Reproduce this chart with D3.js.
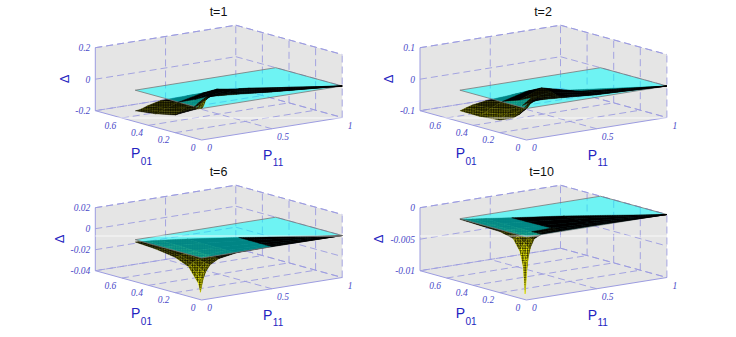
<!DOCTYPE html>
<html>
<head>
<meta charset="utf-8">
<script src="https://cdn.jsdelivr.net/npm/d3@7"></script>
<style>
  html, body { margin: 0; padding: 0; background: #fff; }
  svg { display: block; }
</style>
</head>
<body>
<div id="svgContainer"></div>
<script>
const titles = ['t=1', 't=2', 't=6', 't=10'];
const p11Ticks = [0, 0.5, 1];
const p01Ticks = [0, 0.2, 0.4, 0.6];
const deltaDomains = [[-0.2, 0.2], [-0.1, 0.1], [-0.04, 0.02], [-0.01, 0]];
const deltaTicks = [[-0.2, 0, 0.2], [-0.1, 0, 0.1], [-0.04, -0.02, 0, 0.02], [-0.01, -0.005, 0]];
const deltaTickLabels = [['-0.2', '0', '0.2'], ['-0.1', '0', '0.1'], ['-0.04', '-0.02', '0', '0.02'], ['-0.01', '-0.005', '0']];

// surface samples: columns follow P11, rows run from the P01=0 edge to the diagonal edge
const p11Grid = [0, 0.012, 0.03, 0.06, 0.12, 0.25, 0.5, 1];
const edgeGrid = [0, 0.02, 0.05, 0.1, 0.2, 0.4, 0.7, 1];
const planeP11 = [0, 1, 1, 0];
const planeP01 = [0, 0, 0.5, 0.5];

const deltaT1 = [
  [0, 0.012, 0.05, 0.068, 0.064, 0.054, 0.034, 0],
  [-0.003, 0.006, 0.04, 0.064, 0.064, 0.056, 0.034, 0],
  [-0.008, 0, 0.028, 0.056, 0.062, 0.058, 0.034, 0],
  [-0.018, -0.012, 0.008, 0.04, 0.056, 0.06, 0.034, 0],
  [-0.04, -0.036, -0.024, 0, 0.038, 0.062, 0.032, 0],
  [-0.088, -0.082, -0.07, -0.046, 0, 0.052, 0.028, 0],
  [-0.115, -0.112, -0.1, -0.085, -0.05, 0, 0.016, 0],
  [-0.131, -0.128, -0.12, -0.1, -0.07, -0.042, -0.003, 0]
];
const deltaT2 = [
  [0, 0.004, 0.014, 0.02, 0.02, 0.016, 0.008, 0],
  [-0.005, -0.001, 0.01, 0.018, 0.02, 0.017, 0.008, 0],
  [-0.012, -0.007, 0.003, 0.015, 0.02, 0.018, 0.008, 0],
  [-0.024, -0.018, -0.006, 0.008, 0.02, 0.02, 0.008, 0],
  [-0.042, -0.036, -0.024, -0.006, 0.016, 0.026, 0.008, 0],
  [-0.06, -0.056, -0.046, -0.03, -0.002, 0.03, 0.006, 0],
  [-0.066, -0.062, -0.054, -0.042, -0.022, 0.006, -0.002, 0],
  [-0.065, -0.062, -0.056, -0.048, -0.036, -0.018, -0.007, 0]
];
const deltaT6 = [
  [-0.027, -0.0195, -0.0135, -0.0078, -0.0032, -0.0003, 0.0002, 0],
  [-0.033, -0.0225, -0.015, -0.008, -0.0033, -0.0004, 0.0002, 0],
  [-0.025, -0.02, -0.014, -0.0078, -0.0033, -0.0005, 0.0002, 0],
  [-0.0205, -0.017, -0.0122, -0.0072, -0.0032, -0.0006, 0.0001, 0],
  [-0.0115, -0.0105, -0.0085, -0.0058, -0.0028, -0.0006, 0.0001, 0],
  [-0.0062, -0.0058, -0.0052, -0.004, -0.002, -0.0005, 0.0001, 0],
  [-0.0034, -0.0032, -0.0029, -0.0024, -0.0014, -0.0004, 0.0001, 0],
  [-0.0022, -0.0021, -0.0019, -0.0016, -0.001, -0.0003, 0.0001, 0]
];
const deltaT10 = [
  [-0.0062, -0.0034, -0.0017, -0.0003, 0.0001, 0.0001, 0.0001, 0],
  [-0.0091, -0.0048, -0.0021, -0.0006, 0.00005, 0.0001, 0.0001, 0],
  [-0.0048, -0.0036, -0.0019, -0.0007, -0.00005, 0.0001, 0.0001, 0],
  [-0.0025, -0.0021, -0.0014, -0.0006, -0.00005, 0.0001, 0.0001, 0],
  [-0.0008, -0.0008, -0.0006, -0.0004, -0.0001, 0.0001, 0.0001, 0],
  [-0.0003, -0.0003, -0.0003, -0.0002, -0.0001, 0.00005, 0.0001, 0],
  [-0.0002, -0.0002, -0.0002, -0.00015, -0.0001, 0.00002, 0.0001, 0],
  [-0.0001, -0.0001, -0.0001, -0.0001, -0.00005, -0.00002, 0.0001, 0]
];
const surfaces = [deltaT1, deltaT2, deltaT6, deltaT10];

const w = 736, h = 337;
const originX = [201.7, 526.4, 201.7, 526.4];
const originY = [140, 140, 300, 300];
const titleX = [218.5, 543, 218.5, 541.7];
const titleY = [15.5, 15.5, 176, 176];
const deltaLabelX = [64.3, 388.5, 59.5, 378.5];
const whiteY = [118, 118, 236, 236];

const gridColor = '#9c9ce0';
const tickColor = '#4a4ac8';
const labelColor = '#2424c0';

const svg = d3.select('#svgContainer')
              .append('svg')
              .attr('width', w)
              .attr('height', h);

// fine mesh laid over the surface cells
const pattern = svg.append('defs')
                   .append('pattern')
                   .attr('id', 'mesh')
                   .attr('patternUnits', 'userSpaceOnUse')
                   .attr('width', 1.7)
                   .attr('height', 1.7)
pattern.append('path')
       .attr('d', 'M0.4,0V1.7M0,0.4H1.7')
       .attr('stroke', '#000')
       .attr('stroke-width', 0.55);

const p11X = d3.scaleLinear().domain([0, 1]).range([0, 140.5]);
const p11Y = d3.scaleLinear().domain([0, 1]).range([0, -22.5]);
const p01X = d3.scaleLinear().domain([0, 0.8]).range([0, -106.4]);
const p01Y = d3.scaleLinear().domain([0, 0.8]).range([0, -29.3]);

const closedLine = d3.line().curve(d3.curveLinearClosed);
const yellowRamp = d3.interpolateRgb('#000000', '#ffff00');

const drawPanel = (panel) => {
    const deltaScale = d3.scaleLinear().domain(deltaDomains[panel]).range([0, -63]);
    const zMin = deltaDomains[panel][0], zMax = deltaDomains[panel][1];
    const project = (p11, p01, delta) => [
        originX[panel] + p11X(p11) + p01X(p01),
        originY[panel] + p11Y(p11) + p01Y(p01) + deltaScale(delta)
    ];
    const g = svg.append('g').attr('class', 'panel');

    const dashed = (a, b) => {
        g.append('line')
         .attr('x1', a[0]).attr('y1', a[1])
         .attr('x2', b[0]).attr('y2', b[1])
         .attr('stroke', gridColor)
         .attr('stroke-width', 0.9)
         .attr('stroke-dasharray', '7,4');
    };
    const solid = (a, b) => {
        g.append('line')
         .attr('x1', a[0]).attr('y1', a[1])
         .attr('x2', b[0]).attr('y2', b[1])
         .attr('stroke', gridColor)
         .attr('stroke-width', 1);
    };

    // box walls and floor
    g.append('path')
     .attr('d', closedLine([
        project(0, 0.8, zMin), project(0, 0.8, zMax), project(1, 0.8, zMax),
        project(1, 0, zMax), project(1, 0, zMin), project(0, 0, zMin)
     ]))
     .attr('fill', '#e5e5e5');

    // wall and floor grid
    deltaTicks[panel].forEach(d => {
        dashed(project(0, 0.8, d), project(1, 0.8, d));
        dashed(project(1, 0.8, d), project(1, 0, d));
    });
    dashed(project(0.5, 0.8, zMin), project(0.5, 0.8, zMax));
    dashed(project(1, 0.8, zMin), project(1, 0.8, zMax));
    dashed(project(1, 0, zMin), project(1, 0, zMax));
    dashed(project(0.5, 0, zMin), project(0.5, 0.8, zMin));
    dashed(project(1, 0.8, zMin), project(0, 0.8, zMin));
    dashed(project(1, 0.8, zMin), project(1, 0, zMin));
    p01Ticks.slice(1).forEach(p => {
        dashed(project(1, p, zMin), project(1, p, zMax));
        dashed(project(0, p, zMin), project(1, p, zMin));
    });
    dashed(project(0, 0.8, zMax), project(1, 0.8, zMax));
    dashed(project(1, 0.8, zMax), project(1, 0, zMax));
    solid(project(0, 0.8, zMin), project(0, 0.8, zMax));
    solid(project(0, 0.8, zMin), project(0, 0, zMin));
    solid(project(0, 0, zMin), project(1, 0, zMin));

    // surface cells, far ones first
    const cells = [];
    const surface = surfaces[panel];
    const gridP01 = (i, j) => edgeGrid[i] * 0.5 * (1 - p11Grid[j]);
    for (let i = 0; i < edgeGrid.length - 1; i++) {
        for (let j = 0; j < p11Grid.length - 1; j++) {
            const corners = [[i, j], [i, j + 1], [i + 1, j + 1], [i + 1, j]];
            const points = corners.map(c => project(p11Grid[c[1]], gridP01(c[0], c[1]), surface[c[0]][c[1]]));
            const uv = (p11Grid[j + 1] - p11Grid[j]) * (edgeGrid[i + 1] - edgeGrid[i]);
            const stretch = Math.abs(d3.polygonArea(points)) / uv;
            cells.push({
                points: points,
                delta: d3.mean(corners, c => surface[c[0]][c[1]]),
                depth: d3.mean(corners, c => p11Grid[c[1]] + gridP01(c[0], c[1]) / 0.8),
                shade: Math.max(0, Math.min(1, Math.log(stretch / 3200) / Math.log(16)))
            });
        }
    }
    cells.sort((a, b) => b.depth - a.depth);

    const drawCells = (list) => {
        const cell = g.selectAll(null)
         .data(list)
         .enter()
         .append('g');
        cell.append('path')
         .attr('d', d => closedLine(d.points))
         .attr('fill', d => yellowRamp(d.shade))
         .attr('stroke', d => yellowRamp(d.shade))
         .attr('stroke-width', 0.4);
        cell.append('path')
         .attr('d', d => closedLine(d.points))
         .attr('fill', 'url(#mesh)');
    };
    drawCells(cells.filter(d => d.delta < 0));

    // the Δ=0 plane
    g.append('path')
     .attr('d', closedLine(planeP11.map((p, i) => project(p, planeP01[i], 0))))
     .attr('fill', '#00ffff')
     .attr('fill-opacity', 0.52)
     .attr('stroke', '#777')
     .attr('stroke-width', 0.8);

    drawCells(cells.filter(d => d.delta >= 0));

    g.append('line')
     .attr('x1', originX[panel] - 106.4).attr('x2', originX[panel] + 141)
     .attr('y1', whiteY[panel]).attr('y2', whiteY[panel])
     .attr('stroke', '#fff')
     .attr('stroke-width', 0.8);

    // tick labels
    const tickText = (x, y, text, anchor) => {
        g.append('text')
         .attr('x', x).attr('y', y)
         .attr('text-anchor', anchor)
         .attr('font-family', '"Liberation Serif"')
         .attr('font-style', 'italic')
         .attr('font-size', 9.5)
         .attr('fill', tickColor)
         .text(text);
    };
    deltaTicks[panel].forEach((d, i) => {
        const p = project(0, 0.8, d);
        tickText(p[0] - 5, p[1] + 3.5, deltaTickLabels[panel][i], 'end');
    });
    p01Ticks.forEach(t => {
        const p = project(0, t, zMin);
        tickText(p[0] - (t === 0 ? 8.5 : 11.5), p[1] + 10.5, t, 'middle');
    });
    p11Ticks.forEach(t => {
        const p = project(t, 0, zMin);
        tickText(p[0] + (t === 0.5 ? 11 : 8), p[1] + 11, t, 'middle');
    });

    // axis labels and title
    const axisLabel = (x, y, sub) => {
        const label = g.append('text')
         .attr('x', x).attr('y', y)
         .attr('font-family', '"Liberation Sans"')
         .attr('font-size', 14)
         .attr('fill', labelColor);
        label.append('tspan').text('P');
        label.append('tspan').attr('dy', 6.5).attr('font-size', 10).attr('dx', 0.5).text(sub);
    };
    axisLabel(originX[panel] - 70.7, originY[panel] + 18, '01');
    axisLabel(originX[panel] + 61.3, originY[panel] + 19.5, '11');

    g.append('text')
     .attr('transform', 'translate(' + (deltaLabelX[panel] + 4.5) + ',' + (originY[panel] - 61) + ') rotate(-90)')
     .attr('text-anchor', 'middle')
     .attr('font-family', '"Liberation Sans"')
     .attr('font-size', 13)
     .attr('fill', labelColor)
     .text('Δ');

    g.append('text')
     .attr('x', titleX[panel]).attr('y', titleY[panel])
     .attr('text-anchor', 'middle')
     .attr('font-family', '"Liberation Sans"')
     .attr('font-size', 12.5)
     .attr('fill', '#111')
     .text(titles[panel]);
};

titles.forEach((t, i) => drawPanel(i));
</script>
</body>
</html>
